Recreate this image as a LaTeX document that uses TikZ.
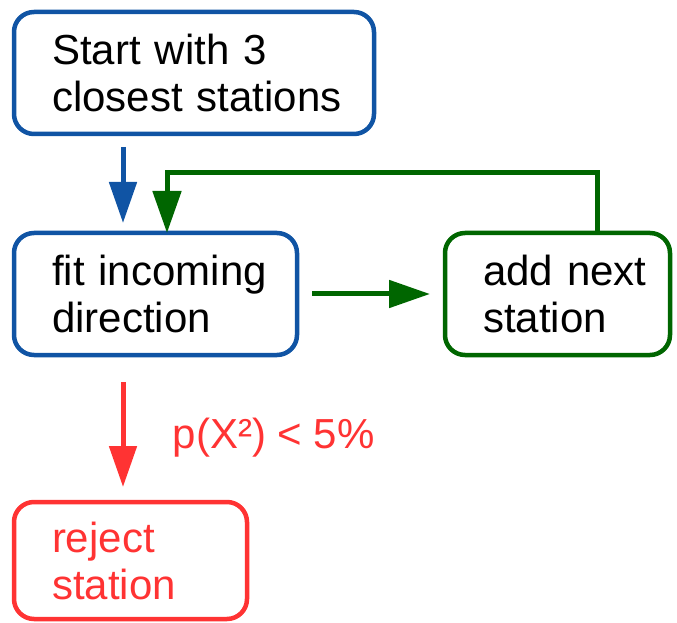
\documentclass[tikz,border=0pt]{standalone}
\usepackage{fontspec}
\setmainfont{Liberation Sans}
\usetikzlibrary{arrows.meta}
\usetikzlibrary{positioning,calc}
\definecolor{stepblue}{RGB}{16,84,164}
\definecolor{stepgreen}{RGB}{0,102,0}
\definecolor{stepred}{RGB}{255,51,51}
\hfuzz=20pt
\hyphenpenalty=10000
\exhyphenpenalty=10000

\begin{document}
\begin{tikzpicture}[>={Triangle[length=41pt,width=27pt]},
  box/.style={draw,rounded corners=20pt,line width=4.5pt,outer sep=0pt,
    inner xsep=38pt,minimum height=122pt,align=left,
    font=\fontsize{42}{47}\selectfont},
  flow/.style={->,line width=5pt}]

  \useasboundingbox (0,0) rectangle (677pt,622pt);

  \node[box,draw=stepblue,text width=284pt] (start) at (194pt,549pt)
    {\mbox{Start with 3}\\\mbox{closest stations}};
  \node[box,draw=stepblue,text width=207pt] (fit)
    [below=99pt of start.south west,anchor=north west]
    {\mbox{fit incoming}\\\mbox{direction}};
  \node[box,draw=stepgreen,text width=149pt] (add) [right=148pt of fit]
    {\mbox{add next}\\\mbox{station}};
  \node[box,draw=stepred,text=stepred,text width=157pt,minimum height=117pt]
    (reject) [below=147pt of fit.south west,anchor=north west] {reject\\station};

  % arrows
  \draw[flow,stepblue,shorten <=13pt,shorten >=10pt]
    ([xshift=109pt]start.south west) -- ([xshift=109pt]fit.north west);
  \draw[flow,stepgreen,shorten <=15pt,shorten >=15pt] (fit) -- (add);
  \draw[flow,stepgreen,-{Triangle[length=42pt,width=28pt]}]
    ([xshift=152pt]add.north west) -- ++(0,60pt) -| ([xshift=153pt]fit.north west);
  \draw[flow,stepred,shorten <=27pt,shorten >=15pt]
    ([xshift=109pt]fit.south west) -- ([xshift=109pt]reject.north west)
    node[pos=.633,anchor=base west,xshift=44pt,text=stepred,
      font=\fontsize{42}{47}\selectfont] (cond) {p(X²) < 5\%};
\end{tikzpicture}
\end{document}
